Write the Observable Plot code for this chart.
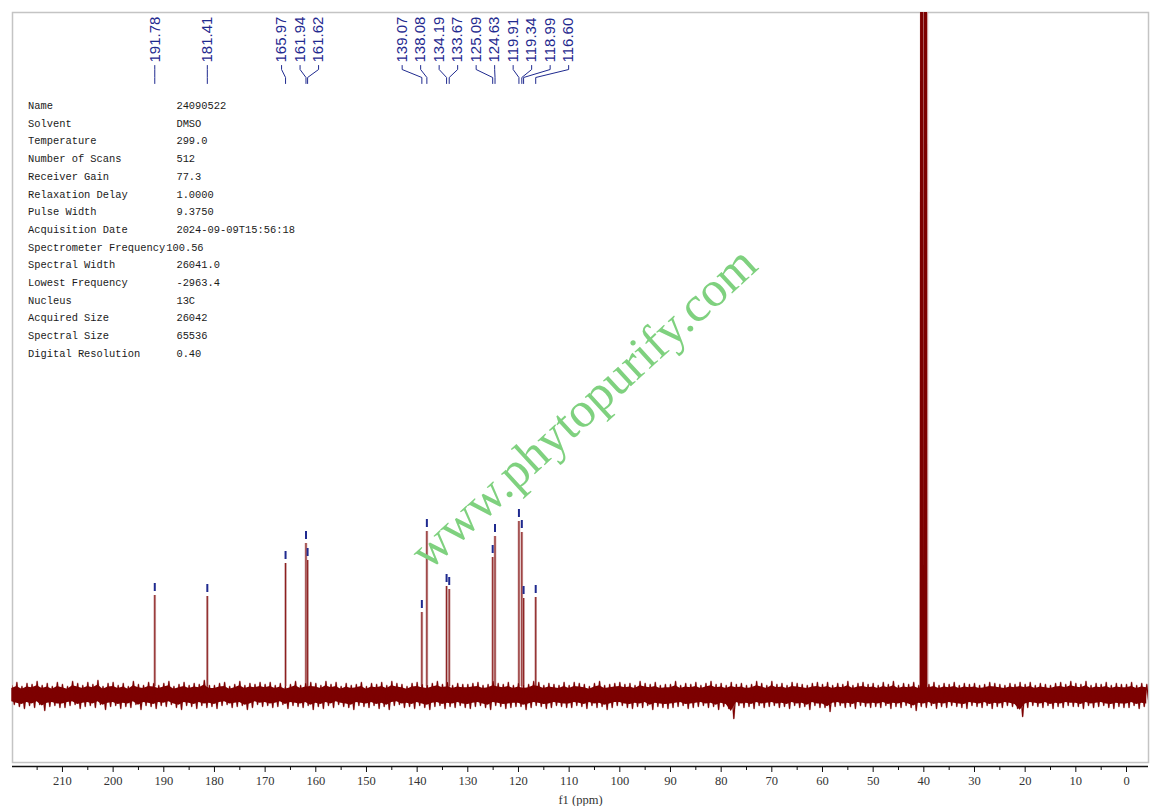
<!DOCTYPE html>
<html><head><meta charset="utf-8">
<script src="https://cdn.jsdelivr.net/npm/d3@7"></script>
<script src="https://cdn.jsdelivr.net/npm/@observablehq/plot@0.6"></script>
<style>
html,body{margin:0;padding:0;background:#fff;}
#wrap{position:relative;width:1157px;height:806px;overflow:hidden;}
#params{position:absolute;left:28px;top:98px;font-family:"Liberation Mono",monospace;font-size:10.4px;line-height:17.7px;color:#1a1a1a;white-space:pre;}
#params .k{display:inline-block;min-width:148.4px;}
#params .k.long{min-width:0;margin-right:1px;}
#wm{position:absolute;left:583px;top:407px;transform:translate(-50%,-50%) rotate(-42.5deg);font-family:"Liberation Serif",serif;font-size:50px;color:#7fd17f;white-space:nowrap;pointer-events:none;}
</style></head>
<body><div id="wrap"></div>
<script>
// ---- data ----
const peakPpm    = [191.78,181.41,165.97,161.94,161.62,139.07,138.08,134.19,133.67,125.09,124.63,119.91,119.34,118.99,116.60];
const peakHeight = [100,99,132,152,135,83,164,109,106,138,159,174,163,97,98];

// solvent (DMSO-d6) multiplet outline, saturated beyond the top
const dmsoPpm = [40.72,40.62,40.05,39.97,39.90,39.30,39.22];
const dmsoInt = [0,900,900,112,900,900,0];

// baseline noise envelope, one value per ppm from 220 down to -4
const noiseStartPpm = 220;
const noiseUpper = [
 10,13,9,12,11,14,10,12,9,13,
 11,9,14,12,10,13,11,15,9,12,
 13,10,12,9,14,11,10,13,12,10,
 12,14,9,11,13,10,12,11,15,10,
 10,12,13,9,11,14,10,12,11,13,
 11,13,10,12,9,11,14,10,12,13,
 12,10,14,11,13,9,12,10,11,13,
 9,12,11,13,10,14,12,11,9,12,
 13,11,10,12,14,11,13,10,12,11,
 11,12,13,10,11,14,12,11,13,10,
 12,10,11,14,13,10,12,11,10,13,
 10,13,12,11,9,12,14,10,11,12,
 13,11,12,10,14,12,11,13,10,11,
 11,14,10,12,11,13,10,12,14,11,
 12,10,13,11,12,10,11,14,12,10,
 14,11,12,10,13,12,11,10,12,13,
 11,13,10,12,11,14,10,12,13,11,
 12,10,13,11,14,10,12,11,13,10,
 12,11,13,10,12,11,13,10,12,11,
 12,10,11,13,12,11,10,12,11,13,
 11,13,10,12,11,10,12,13,11,14,
 12,11,14,10,12,11,13,10,12,11,
 11,13,10,12,11];
const noiseLower = [
 9,11,13,10,12,9,15,11,10,12,
 12,10,9,13,11,10,12,9,14,11,
 10,13,11,12,9,14,10,11,13,10,
 11,9,12,14,10,11,13,10,12,11,
 13,10,9,12,11,10,14,12,9,11,
 10,12,11,9,13,10,11,12,10,14,
 11,13,10,12,9,11,12,14,10,11,
 12,10,13,11,14,10,9,12,11,13,
 10,12,14,11,10,13,11,12,10,12,
 13,11,10,12,14,10,11,13,12,11,
 11,14,12,10,11,13,12,10,11,12,
 12,10,11,13,10,12,11,14,12,10,
 10,12,13,11,12,10,14,11,12,13,
 12,11,10,13,12,11,10,12,11,14,
 11,13,23,10,12,11,13,10,12,11,
 10,12,11,13,10,12,11,14,10,12,
 12,16,11,10,12,11,13,10,11,12,
 11,12,10,13,11,12,10,12,15,11,
 12,10,13,11,12,10,11,12,13,10,
 11,12,10,13,11,12,10,11,13,21,
 12,10,11,12,10,13,11,12,10,11,
 11,13,10,12,11,10,12,13,11,12,
 12,10,13,11,12];

const majorTicks = [0,10,20,30,40,50,60,70,80,90,100,110,120,130,140,150,160,170,180,190,200,210];
const minorTicks = [5,15,25,35,45,55,65,75,85,95,105,115,125,135,145,155,165,175,185,195,205,215];

const paramKeys = ["Name","Solvent","Temperature","Number of Scans","Receiver Gain","Relaxation Delay","Pulse Width","Acquisition Date","Spectrometer Frequency","Spectral Width","Lowest Frequency","Nucleus","Acquired Size","Spectral Size","Digital Resolution"];
const paramVals = ["24090522","DMSO","299.0","512","77.3","1.0000","9.3750","2024-09-09T15:56:18","100.56","26041.0","-2963.4","13C","26042","65536","0.40"];
const watermark = "www.phytopurify.com";

// ---- chart ----
const W = 1157, H = 806, mL = 12, mR = 9, mT = 12, mB = 40;
const xDomain = [219.86, -4.34], yDomain = [-71, 683];
const red = "#7d0000", halo = "#cfa6a6", navy = "#1f2a8f";

const xs = d3.scaleLinear().domain(xDomain).range([mL, W - mR]);

const peaks = peakPpm.map((p, i) => ({p, h: peakHeight[i], label: p.toFixed(2), px: xs(p)}))
  .sort((a, b) => a.px - b.px);

// spread the labels so they do not overlap
const gap = 18.5;
let clusters = peaks.map(d => ({items: [d]}));
function place(c) {
  const w = d3.sum(c.items, d => d.h);
  const cx = d3.sum(c.items, d => d.h * d.px) / w;
  const n = c.items.length;
  c.start = cx - (n - 1) / 2 * gap;
  c.end = c.start + (n - 1) * gap;
}
clusters.forEach(place);
let merged = true;
while (merged) {
  merged = false;
  for (let i = 0; i < clusters.length - 1; i++) {
    if (clusters[i].end + gap > clusters[i + 1].start) {
      clusters[i].items = clusters[i].items.concat(clusters[i + 1].items);
      clusters.splice(i + 1, 1);
      place(clusters[i]);
      merged = true;
      break;
    }
  }
}
clusters.forEach(c => c.items.forEach((d, i) => { d.lp = xs.invert(c.start + i * gap); }));

const connectors = peaks.flatMap((d, k) => [
  {k, x: d.lp, y: 630}, {k, x: d.lp, y: 626}, {k, x: d.p, y: 618}, {k, x: d.p, y: 612}
]);

const noise = noiseUpper.map((u, i) => ({p: noiseStartPpm - i, up: u, lo: noiseLower[i]}));
const zig = noise.flatMap(d => [{x: d.p, y: d.up}, {x: d.p - 0.5, y: -d.lo}]);
const dmso = dmsoPpm.map((p, i) => ({p, v: dmsoInt[i]}));

const chart = Plot.plot({
  width: W, height: H,
  marginLeft: mL, marginRight: mR, marginTop: mT, marginBottom: mB,
  style: {background: "#fff", overflow: "visible"},
  x: {domain: xDomain},
  y: {domain: yDomain, axis: null},
  marks: [
    Plot.frame({stroke: "#c4c4c4", strokeWidth: 1.5, insetBottom: 4}),
    // soft halos first
    Plot.line(zig, {x: "x", y: "y", stroke: halo, strokeWidth: 1.8, clip: true}),
    Plot.line(dmso, {x: "p", y: "v", stroke: halo, strokeWidth: 1.4, clip: true}),
    Plot.ruleX(peaks, {x: "p", y1: 9, y2: "h", stroke: halo, strokeWidth: 2.6}),
    // noise
    Plot.areaY(noise, {x: "p", y1: d => -d.lo * 0.7, y2: d => d.up * 0.7, fill: red}),
    Plot.line(zig, {x: "x", y: "y", stroke: red, strokeWidth: 1.1, clip: true}),
    // solvent
    Plot.areaY(dmso, {x: "p", y: "v", fill: red, clip: true}),
    // peaks
    Plot.ruleX(peaks, {x: "p", y1: 0, y2: "h", stroke: red, strokeWidth: 1, strokeOpacity: 0.85}),
    // peak-pick markers
    Plot.ruleX(peaks, {x: "p", y1: d => d.h + 4, y2: d => d.h + 12, stroke: navy, strokeWidth: 2}),
    // labels and connectors
    Plot.line(connectors, {x: "x", y: "y", z: "k", stroke: navy, strokeWidth: 1}),
    Plot.text(peaks, {x: "lp", y: () => 633, text: "label", rotate: -90, textAnchor: "start", lineAnchor: "middle",
      fontSize: 15, fontFamily: "Liberation Sans, Arial, sans-serif", fill: navy}),
    // axis
    Plot.ruleY([yDomain[0]], {stroke: "#111", strokeWidth: 1.6}),
    Plot.axisX({ticks: minorTicks, tickSize: 4, tickFormat: () => "", label: null, stroke: "#111"}),
    Plot.axisX({ticks: majorTicks, tickSize: 6, tickPadding: 4, fontSize: 12.5,
      fontFamily: "Liberation Serif, serif", color: "#333", stroke: "#111",
      label: "f1 (ppm)", labelAnchor: "center", labelArrow: "none", labelOffset: 37})
  ]
});

const wrap = document.getElementById("wrap");
wrap.appendChild(chart);

const params = document.createElement("div");
params.id = "params";
paramKeys.forEach((k, i) => {
  const row = document.createElement("div");
  const ks = document.createElement("span");
  ks.className = "k" + (k.length > 20 ? " long" : "");
  ks.textContent = k;
  row.appendChild(ks);
  row.appendChild(document.createTextNode(paramVals[i]));
  params.appendChild(row);
});
wrap.appendChild(params);

const wm = document.createElement("div");
wm.id = "wm";
wm.textContent = watermark;
wrap.appendChild(wm);
</script>
</body></html>
